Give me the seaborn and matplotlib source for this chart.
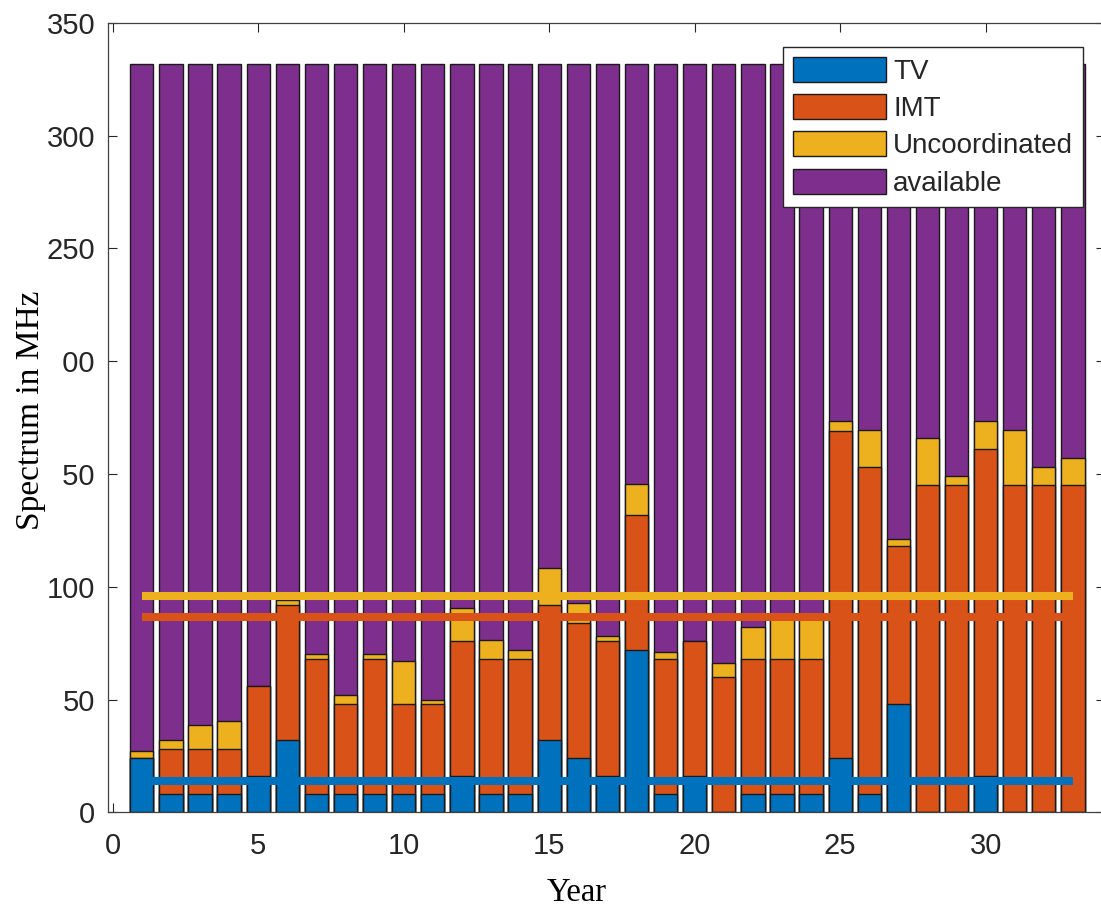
# Spectrum use per year: stacked bars + average levels
import pandas as pd
import matplotlib
matplotlib.use("Agg")
import matplotlib.pyplot as plt
import seaborn as sns
from matplotlib.patches import Patch

# ----------------------------
# Data
# ----------------------------
years = list(range(1, 34))
tv = [24, 8, 8, 8, 16, 32, 8, 8, 8, 8, 8, 16, 8, 8, 32, 24, 16, 72, 8, 16, 0,
      8, 8, 8, 24, 8, 48, 0, 0, 16, 0, 0, 0]
imt = [0, 20, 20, 20, 40, 60, 60, 40, 60, 40, 40, 60, 60, 60, 60, 60, 60, 60,
       60, 60, 60, 60, 60, 60, 145, 145, 70, 145, 145, 145, 145, 145, 145]
uncoord = [3, 4, 10.5, 12.5, 0, 2, 2, 4, 2, 19, 2, 14.5, 8.5, 4, 16.5, 9, 2,
           13.5, 3, 0, 6, 14, 19, 19, 4.5, 16.5, 3, 21, 4, 12.5, 24.5, 8, 12]
total = 332
# average levels: TV, TV+IMT, TV+IMT+Uncoordinated
mean_levels = [13.8, 86.8, 96.0]

labels = ["TV", "IMT", "Uncoordinated", "available"]
colors = ["#0072BD", "#D95319", "#EDB120", "#7E2F8E"]

df = pd.DataFrame({"year": years, "TV": tv, "IMT": imt, "Uncoordinated": uncoord})
df["available"] = total - df[["TV", "IMT", "Uncoordinated"]].sum(axis=1)
cum = df[labels].cumsum(axis=1)

# ----------------------------
# Plot
# ----------------------------
sns.set_theme(style="ticks")
plt.rcParams["font.family"] = ["Liberation Sans", "DejaVu Sans"]
serif = ["Liberation Serif", "DejaVu Serif"]
dark = "#262626"

fig = plt.figure(figsize=(11.01, 9.08), dpi=100)
ax = fig.add_axes([0.0978, 0.1054, 0.9058, 0.8693])

# stacked bars: draw the cumulative heights from the top layer down
for lab, col in reversed(list(zip(labels, colors))):
    sns.barplot(x=df["year"], y=cum[lab], native_scale=True, color=col,
                saturation=1, width=0.8, edgecolor="#1a1a1a", linewidth=1.0,
                errorbar=None, ax=ax)

for m, col in zip(mean_levels, colors[:3]):
    sns.lineplot(x=[years[0], years[-1]], y=[m, m], color=col, linewidth=5.8,
                 solid_capstyle="butt", ax=ax)

ax.set_xlim(-0.172, 34.1)
ax.set_ylim(0, 350)
ax.set_xticks(range(0, 31, 5))
ax.set_yticks(range(0, 351, 50))
ax.tick_params(axis="both", direction="in", length=6.5, width=0.8,
               color=dark, labelcolor=dark, labelsize=21, top=True, right=True)
ax.tick_params(axis="x", pad=14)
ax.tick_params(axis="y", pad=9)
for s in ax.spines.values():
    s.set_visible(True)
    s.set_color("#404040")
    s.set_linewidth(0.9)

ax.set_xlabel("Year", fontsize=23.5, family=serif, color="black",
              va="baseline", ha="center")
ax.xaxis.set_label_coords(0.4706, -0.1124)
ax.set_ylabel("Spectrum in MHz", fontsize=24, family=serif, color="black",
              va="center", ha="center",
              bbox=dict(boxstyle="square,pad=0.5", fc="white", ec="none"))
ax.yaxis.set_label_coords(-0.0769, 0.5097)

handles = [Patch(facecolor=c, edgecolor="#1a1a1a", linewidth=1.0, label=l)
           for l, c in zip(labels, colors)]
leg = ax.legend(handles=handles, loc="upper right",
                bbox_to_anchor=(1083 / 1101, 1 - 46.7 / 908),
                bbox_transform=fig.transFigure, fontsize=20,
                handlelength=3.35, handleheight=1.0, handletextpad=0.25,
                labelspacing=0.34, borderpad=0.36, borderaxespad=0,
                frameon=True, fancybox=False, framealpha=1, edgecolor=dark)
leg.get_frame().set_linewidth(1.0)
for t in leg.get_texts():
    t.set_color(dark)

fig.savefig("out.png", dpi=100)
